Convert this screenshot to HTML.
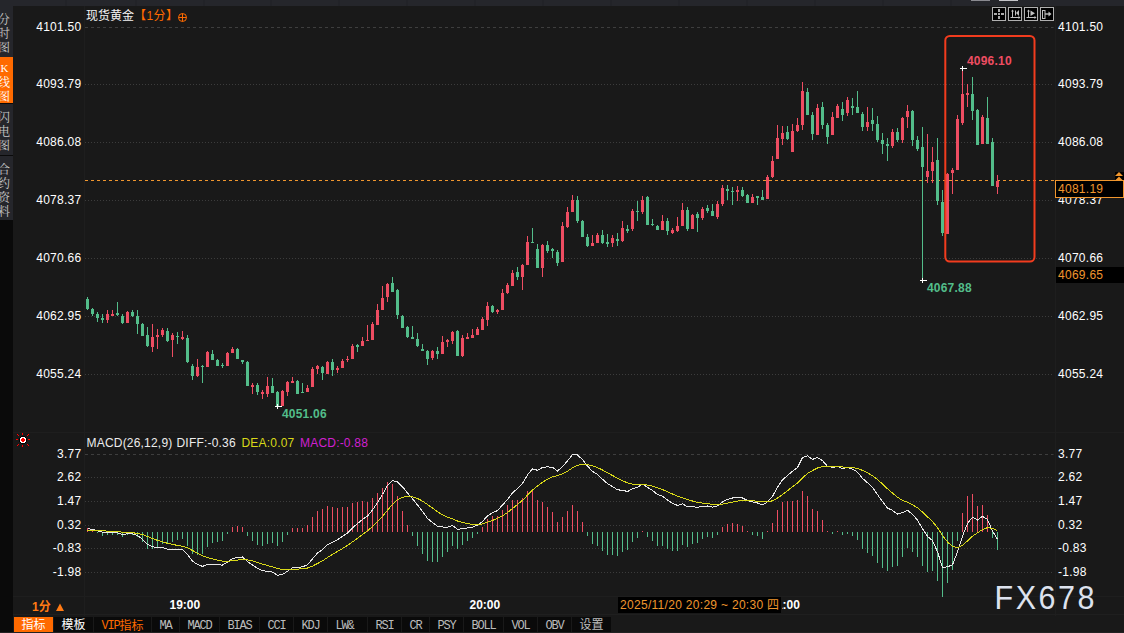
<!DOCTYPE html>
<html lang="zh-CN">
<head>
<meta charset="utf-8">
<title>现货黄金 1分 K线图</title>
<style>
html,body{margin:0;padding:0;background:#191919;}
body{width:1124px;height:633px;overflow:hidden;position:relative;font-family:"Liberation Sans","Noto Sans CJK SC",sans-serif;font-size:12px;color:#ffffff;}
#wrap{position:absolute;left:0;top:0;width:1124px;height:633px;overflow:hidden;background:#191919;}
.abs{position:absolute;white-space:nowrap;line-height:14px;}
#topbar{position:absolute;left:0;top:0;width:1124px;height:6px;background:#25262b;}
#topbar i{position:absolute;top:0;width:2px;height:6px;background:#222328;}
#side{position:absolute;left:0;top:6px;width:13px;height:626px;background:#0a0a0a;}
#bot{position:absolute;left:0;top:632px;width:1124px;height:1px;background:#222222;}
.vt{position:absolute;left:0;width:13px;background:#25262b;color:#c8c8c8;overflow:hidden;font-family:"Noto Serif CJK SC","Noto Sans CJK SC",serif;}
.vt span{position:absolute;left:-2px;width:12px;height:14px;line-height:14px;font-size:12px;text-align:center;}
.vt.on{background:#ff6a00;color:#fff;}
.pl{position:absolute;left:20px;width:61.5px;text-align:right;line-height:14px;letter-spacing:0.27px;white-space:nowrap;}
.pr{position:absolute;left:1058px;line-height:14px;letter-spacing:0.27px;white-space:nowrap;}
.b{font-weight:bold;}
#tabs{position:absolute;left:13px;top:617px;height:15px;width:1111px;}
#tabs div{position:absolute;top:0;height:15px;line-height:15px;background:#0a0a0a;color:#bcbcbc;text-align:center;font-size:12px;font-family:"Liberation Mono","Noto Serif CJK SC",monospace;letter-spacing:-1.2px;white-space:nowrap;overflow:hidden;}
#tabs div.la{line-height:19px;}
#tabs div.cn{font-family:"Noto Sans CJK SC",sans-serif;letter-spacing:0;line-height:14px;}
svg{position:absolute;left:0;top:0;}
</style>
</head>
<body>
<div id="wrap">
<svg width="1124" height="633" viewBox="0 0 1124 633">
<line x1="85" x2="1053.5" y1="27.5" y2="27.5" stroke="#3e3e3e" stroke-width="1" stroke-dasharray="3 3"/>
<line x1="85" x2="1053.5" y1="84.5" y2="84.5" stroke="#3c3c3c" stroke-width="1" stroke-dasharray="1 2"/>
<line x1="85" x2="1053.5" y1="142.5" y2="142.5" stroke="#3c3c3c" stroke-width="1" stroke-dasharray="1 2"/>
<line x1="85" x2="1053.5" y1="200.5" y2="200.5" stroke="#3c3c3c" stroke-width="1" stroke-dasharray="1 2"/>
<line x1="85" x2="1053.5" y1="258.5" y2="258.5" stroke="#3c3c3c" stroke-width="1" stroke-dasharray="1 2"/>
<line x1="85" x2="1053.5" y1="316.5" y2="316.5" stroke="#3c3c3c" stroke-width="1" stroke-dasharray="1 2"/>
<line x1="85" x2="1053.5" y1="374.5" y2="374.5" stroke="#3c3c3c" stroke-width="1" stroke-dasharray="1 2"/>
<line x1="85" x2="1053.5" y1="454.5" y2="454.5" stroke="#3e3e3e" stroke-width="1" stroke-dasharray="3 3"/>
<line x1="85" x2="1053.5" y1="477.5" y2="477.5" stroke="#3c3c3c" stroke-width="1" stroke-dasharray="1 2"/>
<line x1="85" x2="1053.5" y1="501.5" y2="501.5" stroke="#3c3c3c" stroke-width="1" stroke-dasharray="1 2"/>
<line x1="85" x2="1053.5" y1="525.5" y2="525.5" stroke="#3c3c3c" stroke-width="1" stroke-dasharray="1 2"/>
<line x1="85" x2="1053.5" y1="548.5" y2="548.5" stroke="#3c3c3c" stroke-width="1" stroke-dasharray="1 2"/>
<line x1="85" x2="1053.5" y1="572.5" y2="572.5" stroke="#3c3c3c" stroke-width="1" stroke-dasharray="1 2"/>
<line x1="84.5" x2="84.5" y1="6" y2="616" stroke="#1e1e1e" stroke-width="1"/>
<line x1="1055.5" x2="1055.5" y1="6" y2="616" stroke="#1e1e1e" stroke-width="1"/>
<line x1="13" x2="1124" y1="432.5" y2="432.5" stroke="#1e1e1e" stroke-width="1"/>
<line x1="13" x2="1124" y1="596.5" y2="596.5" stroke="#1e1e1e" stroke-width="1"/>
<line x1="13" x2="1124" y1="614.5" y2="614.5" stroke="#1f1f1f" stroke-width="1"/>
<line x1="85" x2="1055" y1="180.5" y2="180.5" stroke="#f0962e" stroke-width="1" stroke-dasharray="3 3"/>
<g shape-rendering="crispEdges"><rect x="87" y="297" width="1" height="13" fill="#53bd8a"/><rect x="86" y="299" width="3" height="10" fill="#53bd8a"/><rect x="92" y="308" width="1" height="8" fill="#53bd8a"/><rect x="91" y="309" width="3" height="5" fill="#53bd8a"/><rect x="97" y="312" width="1" height="10" fill="#53bd8a"/><rect x="96" y="314" width="3" height="4" fill="#53bd8a"/><rect x="102" y="314" width="1" height="9" fill="#53bd8a"/><rect x="101" y="318" width="3" height="2" fill="#53bd8a"/><rect x="107" y="310" width="1" height="13" fill="#ee4d62"/><rect x="106" y="314" width="3" height="6" fill="#ee4d62"/><rect x="112" y="310" width="1" height="6" fill="#ee4d62"/><rect x="111" y="314" width="3" height="2" fill="#ee4d62"/><rect x="117" y="302" width="1" height="14" fill="#53bd8a"/><rect x="116" y="313" width="3" height="2" fill="#53bd8a"/><rect x="122" y="314" width="1" height="10" fill="#53bd8a"/><rect x="121" y="316" width="3" height="7" fill="#53bd8a"/><rect x="127" y="311" width="1" height="12" fill="#ee4d62"/><rect x="126" y="312" width="3" height="11" fill="#ee4d62"/><rect x="132" y="310" width="1" height="7" fill="#53bd8a"/><rect x="131" y="312" width="3" height="4" fill="#53bd8a"/><rect x="137" y="310" width="1" height="24" fill="#53bd8a"/><rect x="136" y="316" width="3" height="8" fill="#53bd8a"/><rect x="142" y="323" width="1" height="13" fill="#53bd8a"/><rect x="141" y="324" width="3" height="12" fill="#53bd8a"/><rect x="147" y="327" width="1" height="20" fill="#53bd8a"/><rect x="146" y="335" width="3" height="11" fill="#53bd8a"/><rect x="152" y="324" width="1" height="28" fill="#ee4d62"/><rect x="151" y="337" width="3" height="10" fill="#ee4d62"/><rect x="157" y="329" width="1" height="20" fill="#ee4d62"/><rect x="156" y="335" width="3" height="2" fill="#ee4d62"/><rect x="162" y="328" width="1" height="9" fill="#ee4d62"/><rect x="161" y="330" width="3" height="5" fill="#ee4d62"/><rect x="167" y="328" width="1" height="14" fill="#53bd8a"/><rect x="166" y="331" width="3" height="10" fill="#53bd8a"/><rect x="172" y="333" width="1" height="24" fill="#ee4d62"/><rect x="171" y="335" width="3" height="5" fill="#ee4d62"/><rect x="177" y="332" width="1" height="12" fill="#53bd8a"/><rect x="176" y="336" width="3" height="1" fill="#53bd8a"/><rect x="182" y="331" width="1" height="9" fill="#ee4d62"/><rect x="181" y="337" width="3" height="2" fill="#ee4d62"/><rect x="187" y="335" width="1" height="28" fill="#53bd8a"/><rect x="186" y="338" width="3" height="24" fill="#53bd8a"/><rect x="192" y="364" width="1" height="16" fill="#53bd8a"/><rect x="191" y="366" width="3" height="10" fill="#53bd8a"/><rect x="197" y="359" width="1" height="18" fill="#ee4d62"/><rect x="196" y="367" width="3" height="9" fill="#ee4d62"/><rect x="202" y="365" width="1" height="18" fill="#53bd8a"/><rect x="201" y="366" width="3" height="1" fill="#53bd8a"/><rect x="207" y="351" width="1" height="16" fill="#ee4d62"/><rect x="206" y="352" width="3" height="15" fill="#ee4d62"/><rect x="212" y="350" width="1" height="10" fill="#53bd8a"/><rect x="211" y="354" width="3" height="6" fill="#53bd8a"/><rect x="217" y="359" width="1" height="7" fill="#53bd8a"/><rect x="216" y="360" width="3" height="6" fill="#53bd8a"/><rect x="222" y="363" width="1" height="5" fill="#53bd8a"/><rect x="221" y="365" width="3" height="1" fill="#53bd8a"/><rect x="227" y="352" width="1" height="14" fill="#ee4d62"/><rect x="226" y="353" width="3" height="13" fill="#ee4d62"/><rect x="232" y="347" width="1" height="6" fill="#ee4d62"/><rect x="231" y="349" width="3" height="4" fill="#ee4d62"/><rect x="237" y="348" width="1" height="11" fill="#53bd8a"/><rect x="236" y="349" width="3" height="10" fill="#53bd8a"/><rect x="242" y="360" width="1" height="4" fill="#53bd8a"/><rect x="241" y="360" width="3" height="2" fill="#53bd8a"/><rect x="247" y="361" width="1" height="25" fill="#53bd8a"/><rect x="246" y="362" width="3" height="24" fill="#53bd8a"/><rect x="252" y="383" width="1" height="11" fill="#ee4d62"/><rect x="251" y="385" width="3" height="2" fill="#ee4d62"/><rect x="257" y="383" width="1" height="12" fill="#53bd8a"/><rect x="256" y="385" width="3" height="7" fill="#53bd8a"/><rect x="262" y="390" width="1" height="9" fill="#ee4d62"/><rect x="261" y="392" width="3" height="2" fill="#ee4d62"/><rect x="267" y="377" width="1" height="20" fill="#ee4d62"/><rect x="266" y="386" width="3" height="8" fill="#ee4d62"/><rect x="272" y="378" width="1" height="15" fill="#53bd8a"/><rect x="271" y="386" width="3" height="7" fill="#53bd8a"/><rect x="277" y="391" width="1" height="15" fill="#53bd8a"/><rect x="276" y="392" width="3" height="14" fill="#53bd8a"/><rect x="282" y="390" width="1" height="16" fill="#ee4d62"/><rect x="281" y="391" width="3" height="15" fill="#ee4d62"/><rect x="287" y="381" width="1" height="15" fill="#ee4d62"/><rect x="286" y="382" width="3" height="10" fill="#ee4d62"/><rect x="292" y="377" width="1" height="6" fill="#ee4d62"/><rect x="291" y="381" width="3" height="2" fill="#ee4d62"/><rect x="297" y="380" width="1" height="14" fill="#53bd8a"/><rect x="296" y="381" width="3" height="13" fill="#53bd8a"/><rect x="302" y="383" width="1" height="10" fill="#53bd8a"/><rect x="301" y="392" width="3" height="1" fill="#53bd8a"/><rect x="307" y="385" width="1" height="7" fill="#ee4d62"/><rect x="306" y="388" width="3" height="4" fill="#ee4d62"/><rect x="312" y="367" width="1" height="20" fill="#ee4d62"/><rect x="311" y="369" width="3" height="18" fill="#ee4d62"/><rect x="317" y="365" width="1" height="9" fill="#ee4d62"/><rect x="316" y="366" width="3" height="3" fill="#ee4d62"/><rect x="322" y="366" width="1" height="14" fill="#53bd8a"/><rect x="321" y="367" width="3" height="6" fill="#53bd8a"/><rect x="327" y="361" width="1" height="13" fill="#ee4d62"/><rect x="326" y="362" width="3" height="12" fill="#ee4d62"/><rect x="332" y="359" width="1" height="17" fill="#53bd8a"/><rect x="331" y="362" width="3" height="8" fill="#53bd8a"/><rect x="337" y="366" width="1" height="7" fill="#ee4d62"/><rect x="336" y="368" width="3" height="2" fill="#ee4d62"/><rect x="342" y="359" width="1" height="9" fill="#ee4d62"/><rect x="341" y="361" width="3" height="7" fill="#ee4d62"/><rect x="347" y="356" width="1" height="6" fill="#ee4d62"/><rect x="346" y="359" width="3" height="1" fill="#ee4d62"/><rect x="352" y="344" width="1" height="15" fill="#ee4d62"/><rect x="351" y="346" width="3" height="13" fill="#ee4d62"/><rect x="357" y="344" width="1" height="8" fill="#53bd8a"/><rect x="356" y="345" width="3" height="2" fill="#53bd8a"/><rect x="362" y="337" width="1" height="9" fill="#ee4d62"/><rect x="361" y="341" width="3" height="5" fill="#ee4d62"/><rect x="367" y="325" width="1" height="16" fill="#ee4d62"/><rect x="366" y="340" width="3" height="1" fill="#ee4d62"/><rect x="372" y="322" width="1" height="18" fill="#ee4d62"/><rect x="371" y="324" width="3" height="16" fill="#ee4d62"/><rect x="377" y="304" width="1" height="21" fill="#ee4d62"/><rect x="376" y="310" width="3" height="15" fill="#ee4d62"/><rect x="382" y="286" width="1" height="24" fill="#ee4d62"/><rect x="381" y="298" width="3" height="12" fill="#ee4d62"/><rect x="387" y="283" width="1" height="19" fill="#ee4d62"/><rect x="386" y="284" width="3" height="13" fill="#ee4d62"/><rect x="392" y="277" width="1" height="15" fill="#53bd8a"/><rect x="391" y="283" width="3" height="9" fill="#53bd8a"/><rect x="397" y="289" width="1" height="30" fill="#53bd8a"/><rect x="396" y="290" width="3" height="25" fill="#53bd8a"/><rect x="402" y="315" width="1" height="13" fill="#53bd8a"/><rect x="401" y="316" width="3" height="12" fill="#53bd8a"/><rect x="407" y="326" width="1" height="12" fill="#53bd8a"/><rect x="406" y="327" width="3" height="10" fill="#53bd8a"/><rect x="412" y="326" width="1" height="13" fill="#53bd8a"/><rect x="411" y="337" width="3" height="2" fill="#53bd8a"/><rect x="417" y="333" width="1" height="14" fill="#53bd8a"/><rect x="416" y="339" width="3" height="7" fill="#53bd8a"/><rect x="422" y="344" width="1" height="7" fill="#53bd8a"/><rect x="421" y="349" width="3" height="2" fill="#53bd8a"/><rect x="427" y="350" width="1" height="15" fill="#53bd8a"/><rect x="426" y="351" width="3" height="8" fill="#53bd8a"/><rect x="432" y="350" width="1" height="10" fill="#ee4d62"/><rect x="431" y="351" width="3" height="7" fill="#ee4d62"/><rect x="437" y="347" width="1" height="12" fill="#53bd8a"/><rect x="436" y="351" width="3" height="3" fill="#53bd8a"/><rect x="442" y="336" width="1" height="18" fill="#ee4d62"/><rect x="441" y="342" width="3" height="12" fill="#ee4d62"/><rect x="447" y="339" width="1" height="8" fill="#ee4d62"/><rect x="446" y="340" width="3" height="2" fill="#ee4d62"/><rect x="452" y="331" width="1" height="13" fill="#ee4d62"/><rect x="451" y="332" width="3" height="9" fill="#ee4d62"/><rect x="457" y="330" width="1" height="26" fill="#53bd8a"/><rect x="456" y="331" width="3" height="25" fill="#53bd8a"/><rect x="462" y="335" width="1" height="22" fill="#ee4d62"/><rect x="461" y="338" width="3" height="18" fill="#ee4d62"/><rect x="467" y="333" width="1" height="6" fill="#ee4d62"/><rect x="466" y="337" width="3" height="2" fill="#ee4d62"/><rect x="472" y="329" width="1" height="9" fill="#ee4d62"/><rect x="471" y="335" width="3" height="3" fill="#ee4d62"/><rect x="477" y="327" width="1" height="8" fill="#ee4d62"/><rect x="476" y="329" width="3" height="6" fill="#ee4d62"/><rect x="482" y="317" width="1" height="13" fill="#ee4d62"/><rect x="481" y="319" width="3" height="11" fill="#ee4d62"/><rect x="487" y="302" width="1" height="24" fill="#ee4d62"/><rect x="486" y="306" width="3" height="14" fill="#ee4d62"/><rect x="492" y="305" width="1" height="8" fill="#53bd8a"/><rect x="491" y="306" width="3" height="6" fill="#53bd8a"/><rect x="497" y="309" width="1" height="5" fill="#ee4d62"/><rect x="496" y="310" width="3" height="2" fill="#ee4d62"/><rect x="502" y="289" width="1" height="21" fill="#ee4d62"/><rect x="501" y="293" width="3" height="17" fill="#ee4d62"/><rect x="507" y="283" width="1" height="11" fill="#ee4d62"/><rect x="506" y="285" width="3" height="8" fill="#ee4d62"/><rect x="512" y="270" width="1" height="16" fill="#ee4d62"/><rect x="511" y="273" width="3" height="13" fill="#ee4d62"/><rect x="517" y="267" width="1" height="13" fill="#53bd8a"/><rect x="516" y="272" width="3" height="5" fill="#53bd8a"/><rect x="522" y="264" width="1" height="26" fill="#ee4d62"/><rect x="521" y="265" width="3" height="12" fill="#ee4d62"/><rect x="527" y="236" width="1" height="29" fill="#ee4d62"/><rect x="526" y="242" width="3" height="23" fill="#ee4d62"/><rect x="532" y="228" width="1" height="15" fill="#53bd8a"/><rect x="531" y="242" width="3" height="1" fill="#53bd8a"/><rect x="537" y="244" width="1" height="24" fill="#53bd8a"/><rect x="536" y="249" width="3" height="19" fill="#53bd8a"/><rect x="542" y="244" width="1" height="33" fill="#ee4d62"/><rect x="541" y="245" width="3" height="23" fill="#ee4d62"/><rect x="547" y="241" width="1" height="12" fill="#53bd8a"/><rect x="546" y="245" width="3" height="6" fill="#53bd8a"/><rect x="552" y="248" width="1" height="10" fill="#53bd8a"/><rect x="551" y="249" width="3" height="2" fill="#53bd8a"/><rect x="557" y="250" width="1" height="16" fill="#53bd8a"/><rect x="556" y="252" width="3" height="11" fill="#53bd8a"/><rect x="562" y="222" width="1" height="40" fill="#ee4d62"/><rect x="561" y="226" width="3" height="36" fill="#ee4d62"/><rect x="567" y="207" width="1" height="21" fill="#ee4d62"/><rect x="566" y="212" width="3" height="15" fill="#ee4d62"/><rect x="572" y="195" width="1" height="17" fill="#ee4d62"/><rect x="571" y="200" width="3" height="12" fill="#ee4d62"/><rect x="577" y="196" width="1" height="27" fill="#53bd8a"/><rect x="576" y="200" width="3" height="21" fill="#53bd8a"/><rect x="582" y="220" width="1" height="17" fill="#53bd8a"/><rect x="581" y="221" width="3" height="16" fill="#53bd8a"/><rect x="587" y="234" width="1" height="13" fill="#53bd8a"/><rect x="586" y="237" width="3" height="9" fill="#53bd8a"/><rect x="592" y="235" width="1" height="11" fill="#ee4d62"/><rect x="591" y="243" width="3" height="3" fill="#ee4d62"/><rect x="597" y="233" width="1" height="10" fill="#ee4d62"/><rect x="596" y="235" width="3" height="8" fill="#ee4d62"/><rect x="602" y="230" width="1" height="14" fill="#53bd8a"/><rect x="601" y="235" width="3" height="8" fill="#53bd8a"/><rect x="607" y="234" width="1" height="13" fill="#53bd8a"/><rect x="606" y="242" width="3" height="2" fill="#53bd8a"/><rect x="612" y="235" width="1" height="12" fill="#ee4d62"/><rect x="611" y="238" width="3" height="5" fill="#ee4d62"/><rect x="617" y="233" width="1" height="13" fill="#53bd8a"/><rect x="616" y="239" width="3" height="2" fill="#53bd8a"/><rect x="622" y="221" width="1" height="21" fill="#ee4d62"/><rect x="621" y="228" width="3" height="13" fill="#ee4d62"/><rect x="627" y="225" width="1" height="8" fill="#53bd8a"/><rect x="626" y="229" width="3" height="2" fill="#53bd8a"/><rect x="632" y="209" width="1" height="22" fill="#ee4d62"/><rect x="631" y="211" width="3" height="18" fill="#ee4d62"/><rect x="637" y="201" width="1" height="20" fill="#53bd8a"/><rect x="636" y="211" width="3" height="1" fill="#53bd8a"/><rect x="642" y="196" width="1" height="18" fill="#ee4d62"/><rect x="641" y="200" width="3" height="12" fill="#ee4d62"/><rect x="647" y="196" width="1" height="29" fill="#53bd8a"/><rect x="646" y="197" width="3" height="28" fill="#53bd8a"/><rect x="652" y="219" width="1" height="7" fill="#53bd8a"/><rect x="651" y="224" width="3" height="1" fill="#53bd8a"/><rect x="657" y="225" width="1" height="5" fill="#53bd8a"/><rect x="656" y="226" width="3" height="4" fill="#53bd8a"/><rect x="662" y="215" width="1" height="15" fill="#ee4d62"/><rect x="661" y="221" width="3" height="9" fill="#ee4d62"/><rect x="667" y="218" width="1" height="17" fill="#53bd8a"/><rect x="666" y="221" width="3" height="10" fill="#53bd8a"/><rect x="672" y="228" width="1" height="6" fill="#ee4d62"/><rect x="671" y="230" width="3" height="3" fill="#ee4d62"/><rect x="677" y="217" width="1" height="15" fill="#ee4d62"/><rect x="676" y="226" width="3" height="5" fill="#ee4d62"/><rect x="682" y="203" width="1" height="23" fill="#ee4d62"/><rect x="681" y="210" width="3" height="16" fill="#ee4d62"/><rect x="687" y="207" width="1" height="24" fill="#53bd8a"/><rect x="686" y="210" width="3" height="19" fill="#53bd8a"/><rect x="692" y="214" width="1" height="15" fill="#ee4d62"/><rect x="691" y="215" width="3" height="14" fill="#ee4d62"/><rect x="697" y="212" width="1" height="20" fill="#53bd8a"/><rect x="696" y="214" width="3" height="4" fill="#53bd8a"/><rect x="702" y="207" width="1" height="13" fill="#ee4d62"/><rect x="701" y="209" width="3" height="9" fill="#ee4d62"/><rect x="707" y="205" width="1" height="8" fill="#53bd8a"/><rect x="706" y="208" width="3" height="3" fill="#53bd8a"/><rect x="712" y="204" width="1" height="12" fill="#53bd8a"/><rect x="711" y="211" width="3" height="5" fill="#53bd8a"/><rect x="717" y="201" width="1" height="18" fill="#ee4d62"/><rect x="716" y="204" width="3" height="13" fill="#ee4d62"/><rect x="722" y="185" width="1" height="21" fill="#ee4d62"/><rect x="721" y="188" width="3" height="16" fill="#ee4d62"/><rect x="727" y="185" width="1" height="15" fill="#53bd8a"/><rect x="726" y="189" width="3" height="2" fill="#53bd8a"/><rect x="732" y="187" width="1" height="18" fill="#53bd8a"/><rect x="731" y="191" width="3" height="1" fill="#53bd8a"/><rect x="737" y="186" width="1" height="15" fill="#ee4d62"/><rect x="736" y="190" width="3" height="2" fill="#ee4d62"/><rect x="742" y="187" width="1" height="10" fill="#53bd8a"/><rect x="741" y="190" width="3" height="6" fill="#53bd8a"/><rect x="747" y="194" width="1" height="9" fill="#53bd8a"/><rect x="746" y="195" width="3" height="8" fill="#53bd8a"/><rect x="752" y="194" width="1" height="9" fill="#ee4d62"/><rect x="751" y="197" width="3" height="6" fill="#ee4d62"/><rect x="757" y="196" width="1" height="9" fill="#53bd8a"/><rect x="756" y="196" width="3" height="2" fill="#53bd8a"/><rect x="762" y="190" width="1" height="10" fill="#53bd8a"/><rect x="761" y="197" width="3" height="3" fill="#53bd8a"/><rect x="767" y="175" width="1" height="24" fill="#ee4d62"/><rect x="766" y="177" width="3" height="22" fill="#ee4d62"/><rect x="772" y="156" width="1" height="22" fill="#ee4d62"/><rect x="771" y="161" width="3" height="16" fill="#ee4d62"/><rect x="777" y="125" width="1" height="34" fill="#ee4d62"/><rect x="776" y="138" width="3" height="21" fill="#ee4d62"/><rect x="782" y="126" width="1" height="19" fill="#ee4d62"/><rect x="781" y="133" width="3" height="6" fill="#ee4d62"/><rect x="787" y="126" width="1" height="14" fill="#53bd8a"/><rect x="786" y="132" width="3" height="7" fill="#53bd8a"/><rect x="792" y="124" width="1" height="28" fill="#ee4d62"/><rect x="791" y="131" width="3" height="21" fill="#ee4d62"/><rect x="797" y="118" width="1" height="14" fill="#ee4d62"/><rect x="796" y="125" width="3" height="6" fill="#ee4d62"/><rect x="802" y="82" width="1" height="48" fill="#ee4d62"/><rect x="801" y="91" width="3" height="34" fill="#ee4d62"/><rect x="807" y="88" width="1" height="27" fill="#53bd8a"/><rect x="806" y="92" width="3" height="23" fill="#53bd8a"/><rect x="812" y="112" width="1" height="28" fill="#53bd8a"/><rect x="811" y="115" width="3" height="19" fill="#53bd8a"/><rect x="817" y="104" width="1" height="31" fill="#ee4d62"/><rect x="816" y="108" width="3" height="27" fill="#ee4d62"/><rect x="822" y="102" width="1" height="27" fill="#53bd8a"/><rect x="821" y="107" width="3" height="18" fill="#53bd8a"/><rect x="827" y="123" width="1" height="21" fill="#53bd8a"/><rect x="826" y="125" width="3" height="12" fill="#53bd8a"/><rect x="832" y="112" width="1" height="23" fill="#ee4d62"/><rect x="831" y="117" width="3" height="18" fill="#ee4d62"/><rect x="837" y="104" width="1" height="14" fill="#ee4d62"/><rect x="836" y="106" width="3" height="12" fill="#ee4d62"/><rect x="842" y="102" width="1" height="19" fill="#53bd8a"/><rect x="841" y="109" width="3" height="6" fill="#53bd8a"/><rect x="847" y="97" width="1" height="19" fill="#ee4d62"/><rect x="846" y="100" width="3" height="13" fill="#ee4d62"/><rect x="852" y="98" width="1" height="17" fill="#53bd8a"/><rect x="851" y="106" width="3" height="2" fill="#53bd8a"/><rect x="857" y="91" width="1" height="22" fill="#53bd8a"/><rect x="856" y="107" width="3" height="6" fill="#53bd8a"/><rect x="862" y="112" width="1" height="19" fill="#53bd8a"/><rect x="861" y="114" width="3" height="13" fill="#53bd8a"/><rect x="867" y="107" width="1" height="24" fill="#ee4d62"/><rect x="866" y="122" width="3" height="5" fill="#ee4d62"/><rect x="872" y="108" width="1" height="23" fill="#53bd8a"/><rect x="871" y="120" width="3" height="4" fill="#53bd8a"/><rect x="877" y="116" width="1" height="26" fill="#53bd8a"/><rect x="876" y="124" width="3" height="16" fill="#53bd8a"/><rect x="882" y="133" width="1" height="21" fill="#53bd8a"/><rect x="881" y="140" width="3" height="4" fill="#53bd8a"/><rect x="887" y="138" width="1" height="23" fill="#53bd8a"/><rect x="886" y="144" width="3" height="2" fill="#53bd8a"/><rect x="892" y="129" width="1" height="19" fill="#ee4d62"/><rect x="891" y="132" width="3" height="14" fill="#ee4d62"/><rect x="897" y="128" width="1" height="14" fill="#53bd8a"/><rect x="896" y="132" width="3" height="8" fill="#53bd8a"/><rect x="902" y="117" width="1" height="26" fill="#ee4d62"/><rect x="901" y="118" width="3" height="22" fill="#ee4d62"/><rect x="907" y="105" width="1" height="23" fill="#ee4d62"/><rect x="906" y="111" width="3" height="6" fill="#ee4d62"/><rect x="912" y="110" width="1" height="36" fill="#53bd8a"/><rect x="911" y="111" width="3" height="29" fill="#53bd8a"/><rect x="917" y="136" width="1" height="15" fill="#53bd8a"/><rect x="916" y="140" width="3" height="9" fill="#53bd8a"/><rect x="922" y="127" width="1" height="153" fill="#53bd8a"/><rect x="921" y="147" width="3" height="20" fill="#53bd8a"/><rect x="927" y="134" width="1" height="49" fill="#ee4d62"/><rect x="926" y="171" width="3" height="6" fill="#ee4d62"/><rect x="932" y="147" width="1" height="36" fill="#ee4d62"/><rect x="931" y="162" width="3" height="9" fill="#ee4d62"/><rect x="937" y="138" width="1" height="67" fill="#53bd8a"/><rect x="936" y="160" width="3" height="41" fill="#53bd8a"/><rect x="942" y="190" width="1" height="46" fill="#53bd8a"/><rect x="941" y="202" width="3" height="31" fill="#53bd8a"/><rect x="947" y="173" width="1" height="61" fill="#ee4d62"/><rect x="946" y="174" width="3" height="60" fill="#ee4d62"/><rect x="952" y="168" width="1" height="26" fill="#ee4d62"/><rect x="951" y="170" width="3" height="3" fill="#ee4d62"/><rect x="957" y="115" width="1" height="55" fill="#ee4d62"/><rect x="956" y="119" width="3" height="51" fill="#ee4d62"/><rect x="962" y="68" width="1" height="57" fill="#ee4d62"/><rect x="961" y="94" width="3" height="29" fill="#ee4d62"/><rect x="967" y="84" width="1" height="23" fill="#ee4d62"/><rect x="966" y="93" width="3" height="2" fill="#ee4d62"/><rect x="972" y="77" width="1" height="43" fill="#53bd8a"/><rect x="971" y="94" width="3" height="17" fill="#53bd8a"/><rect x="977" y="109" width="1" height="36" fill="#53bd8a"/><rect x="976" y="110" width="3" height="35" fill="#53bd8a"/><rect x="982" y="115" width="1" height="29" fill="#ee4d62"/><rect x="981" y="117" width="3" height="27" fill="#ee4d62"/><rect x="987" y="97" width="1" height="47" fill="#53bd8a"/><rect x="986" y="118" width="3" height="26" fill="#53bd8a"/><rect x="992" y="138" width="1" height="48" fill="#53bd8a"/><rect x="991" y="142" width="3" height="44" fill="#53bd8a"/><rect x="997" y="175" width="1" height="19" fill="#ee4d62"/><rect x="996" y="181" width="3" height="6" fill="#ee4d62"/><rect x="87" y="528" width="1" height="4" fill="#ee4d62"/><rect x="92" y="529" width="1" height="3" fill="#ee4d62"/><rect x="97" y="532" width="1" height="1" fill="#53bd8a"/><rect x="102" y="532" width="1" height="4" fill="#53bd8a"/><rect x="107" y="532" width="1" height="3" fill="#53bd8a"/><rect x="112" y="532" width="1" height="3" fill="#53bd8a"/><rect x="117" y="532" width="1" height="3" fill="#53bd8a"/><rect x="122" y="532" width="1" height="5" fill="#53bd8a"/><rect x="127" y="532" width="1" height="3" fill="#53bd8a"/><rect x="132" y="532" width="1" height="3" fill="#53bd8a"/><rect x="137" y="532" width="1" height="5" fill="#53bd8a"/><rect x="142" y="532" width="1" height="10" fill="#53bd8a"/><rect x="147" y="532" width="1" height="17" fill="#53bd8a"/><rect x="152" y="532" width="1" height="17" fill="#53bd8a"/><rect x="157" y="532" width="1" height="16" fill="#53bd8a"/><rect x="162" y="532" width="1" height="12" fill="#53bd8a"/><rect x="167" y="532" width="1" height="12" fill="#53bd8a"/><rect x="172" y="532" width="1" height="10" fill="#53bd8a"/><rect x="177" y="532" width="1" height="8" fill="#53bd8a"/><rect x="182" y="532" width="1" height="7" fill="#53bd8a"/><rect x="187" y="532" width="1" height="14" fill="#53bd8a"/><rect x="192" y="532" width="1" height="22" fill="#53bd8a"/><rect x="197" y="532" width="1" height="23" fill="#53bd8a"/><rect x="202" y="532" width="1" height="22" fill="#53bd8a"/><rect x="207" y="532" width="1" height="15" fill="#53bd8a"/><rect x="212" y="532" width="1" height="11" fill="#53bd8a"/><rect x="217" y="532" width="1" height="10" fill="#53bd8a"/><rect x="222" y="532" width="1" height="9" fill="#53bd8a"/><rect x="227" y="532" width="1" height="2" fill="#53bd8a"/><rect x="232" y="527" width="1" height="5" fill="#ee4d62"/><rect x="237" y="526" width="1" height="6" fill="#ee4d62"/><rect x="242" y="527" width="1" height="5" fill="#ee4d62"/><rect x="247" y="532" width="1" height="4" fill="#53bd8a"/><rect x="252" y="532" width="1" height="9" fill="#53bd8a"/><rect x="257" y="532" width="1" height="13" fill="#53bd8a"/><rect x="262" y="532" width="1" height="14" fill="#53bd8a"/><rect x="267" y="532" width="1" height="12" fill="#53bd8a"/><rect x="272" y="532" width="1" height="11" fill="#53bd8a"/><rect x="277" y="532" width="1" height="14" fill="#53bd8a"/><rect x="282" y="532" width="1" height="10" fill="#53bd8a"/><rect x="287" y="532" width="1" height="3" fill="#53bd8a"/><rect x="292" y="528" width="1" height="4" fill="#ee4d62"/><rect x="297" y="528" width="1" height="4" fill="#ee4d62"/><rect x="302" y="528" width="1" height="4" fill="#ee4d62"/><rect x="307" y="525" width="1" height="7" fill="#ee4d62"/><rect x="312" y="517" width="1" height="15" fill="#ee4d62"/><rect x="317" y="511" width="1" height="21" fill="#ee4d62"/><rect x="322" y="509" width="1" height="23" fill="#ee4d62"/><rect x="327" y="506" width="1" height="26" fill="#ee4d62"/><rect x="332" y="507" width="1" height="25" fill="#ee4d62"/><rect x="337" y="508" width="1" height="24" fill="#ee4d62"/><rect x="342" y="507" width="1" height="25" fill="#ee4d62"/><rect x="347" y="507" width="1" height="25" fill="#ee4d62"/><rect x="352" y="503" width="1" height="29" fill="#ee4d62"/><rect x="357" y="502" width="1" height="30" fill="#ee4d62"/><rect x="362" y="501" width="1" height="31" fill="#ee4d62"/><rect x="367" y="502" width="1" height="30" fill="#ee4d62"/><rect x="372" y="498" width="1" height="34" fill="#ee4d62"/><rect x="377" y="493" width="1" height="39" fill="#ee4d62"/><rect x="382" y="488" width="1" height="44" fill="#ee4d62"/><rect x="387" y="482" width="1" height="50" fill="#ee4d62"/><rect x="392" y="484" width="1" height="48" fill="#ee4d62"/><rect x="397" y="496" width="1" height="36" fill="#ee4d62"/><rect x="402" y="511" width="1" height="21" fill="#ee4d62"/><rect x="407" y="525" width="1" height="7" fill="#ee4d62"/><rect x="412" y="532" width="1" height="4" fill="#53bd8a"/><rect x="417" y="532" width="1" height="14" fill="#53bd8a"/><rect x="422" y="532" width="1" height="22" fill="#53bd8a"/><rect x="427" y="532" width="1" height="29" fill="#53bd8a"/><rect x="432" y="532" width="1" height="30" fill="#53bd8a"/><rect x="437" y="532" width="1" height="30" fill="#53bd8a"/><rect x="442" y="532" width="1" height="25" fill="#53bd8a"/><rect x="447" y="532" width="1" height="20" fill="#53bd8a"/><rect x="452" y="532" width="1" height="14" fill="#53bd8a"/><rect x="457" y="532" width="1" height="17" fill="#53bd8a"/><rect x="462" y="532" width="1" height="13" fill="#53bd8a"/><rect x="467" y="532" width="1" height="9" fill="#53bd8a"/><rect x="472" y="532" width="1" height="6" fill="#53bd8a"/><rect x="477" y="532" width="1" height="2" fill="#53bd8a"/><rect x="482" y="527" width="1" height="5" fill="#ee4d62"/><rect x="487" y="519" width="1" height="13" fill="#ee4d62"/><rect x="492" y="516" width="1" height="16" fill="#ee4d62"/><rect x="497" y="516" width="1" height="16" fill="#ee4d62"/><rect x="502" y="510" width="1" height="22" fill="#ee4d62"/><rect x="507" y="505" width="1" height="27" fill="#ee4d62"/><rect x="512" y="500" width="1" height="32" fill="#ee4d62"/><rect x="517" y="500" width="1" height="32" fill="#ee4d62"/><rect x="522" y="498" width="1" height="34" fill="#ee4d62"/><rect x="527" y="491" width="1" height="41" fill="#ee4d62"/><rect x="532" y="489" width="1" height="43" fill="#ee4d62"/><rect x="537" y="500" width="1" height="32" fill="#ee4d62"/><rect x="542" y="502" width="1" height="30" fill="#ee4d62"/><rect x="547" y="507" width="1" height="25" fill="#ee4d62"/><rect x="552" y="512" width="1" height="20" fill="#ee4d62"/><rect x="557" y="522" width="1" height="10" fill="#ee4d62"/><rect x="562" y="517" width="1" height="15" fill="#ee4d62"/><rect x="567" y="511" width="1" height="21" fill="#ee4d62"/><rect x="572" y="505" width="1" height="27" fill="#ee4d62"/><rect x="577" y="511" width="1" height="21" fill="#ee4d62"/><rect x="582" y="522" width="1" height="10" fill="#ee4d62"/><rect x="587" y="532" width="1" height="4" fill="#53bd8a"/><rect x="592" y="532" width="1" height="12" fill="#53bd8a"/><rect x="597" y="532" width="1" height="14" fill="#53bd8a"/><rect x="602" y="532" width="1" height="19" fill="#53bd8a"/><rect x="607" y="532" width="1" height="23" fill="#53bd8a"/><rect x="612" y="532" width="1" height="23" fill="#53bd8a"/><rect x="617" y="532" width="1" height="24" fill="#53bd8a"/><rect x="622" y="532" width="1" height="20" fill="#53bd8a"/><rect x="627" y="532" width="1" height="18" fill="#53bd8a"/><rect x="632" y="532" width="1" height="10" fill="#53bd8a"/><rect x="637" y="532" width="1" height="6" fill="#53bd8a"/><rect x="642" y="531" width="1" height="1" fill="#ee4d62"/><rect x="647" y="532" width="1" height="5" fill="#53bd8a"/><rect x="652" y="532" width="1" height="9" fill="#53bd8a"/><rect x="657" y="532" width="1" height="14" fill="#53bd8a"/><rect x="662" y="532" width="1" height="14" fill="#53bd8a"/><rect x="667" y="532" width="1" height="17" fill="#53bd8a"/><rect x="672" y="532" width="1" height="19" fill="#53bd8a"/><rect x="677" y="532" width="1" height="19" fill="#53bd8a"/><rect x="682" y="532" width="1" height="13" fill="#53bd8a"/><rect x="687" y="532" width="1" height="15" fill="#53bd8a"/><rect x="692" y="532" width="1" height="12" fill="#53bd8a"/><rect x="697" y="532" width="1" height="11" fill="#53bd8a"/><rect x="702" y="532" width="1" height="7" fill="#53bd8a"/><rect x="707" y="532" width="1" height="5" fill="#53bd8a"/><rect x="712" y="532" width="1" height="6" fill="#53bd8a"/><rect x="717" y="532" width="1" height="3" fill="#53bd8a"/><rect x="722" y="527" width="1" height="5" fill="#ee4d62"/><rect x="727" y="524" width="1" height="8" fill="#ee4d62"/><rect x="732" y="523" width="1" height="9" fill="#ee4d62"/><rect x="737" y="524" width="1" height="8" fill="#ee4d62"/><rect x="742" y="526" width="1" height="6" fill="#ee4d62"/><rect x="747" y="531" width="1" height="1" fill="#ee4d62"/><rect x="752" y="532" width="1" height="3" fill="#53bd8a"/><rect x="757" y="532" width="1" height="4" fill="#53bd8a"/><rect x="762" y="532" width="1" height="7" fill="#53bd8a"/><rect x="767" y="531" width="1" height="1" fill="#ee4d62"/><rect x="772" y="523" width="1" height="9" fill="#ee4d62"/><rect x="777" y="510" width="1" height="22" fill="#ee4d62"/><rect x="782" y="502" width="1" height="30" fill="#ee4d62"/><rect x="787" y="501" width="1" height="31" fill="#ee4d62"/><rect x="792" y="501" width="1" height="31" fill="#ee4d62"/><rect x="797" y="500" width="1" height="32" fill="#ee4d62"/><rect x="802" y="491" width="1" height="41" fill="#ee4d62"/><rect x="807" y="496" width="1" height="36" fill="#ee4d62"/><rect x="812" y="509" width="1" height="23" fill="#ee4d62"/><rect x="817" y="511" width="1" height="21" fill="#ee4d62"/><rect x="822" y="520" width="1" height="12" fill="#ee4d62"/><rect x="827" y="531" width="1" height="1" fill="#ee4d62"/><rect x="832" y="532" width="1" height="2" fill="#53bd8a"/><rect x="837" y="531" width="1" height="1" fill="#ee4d62"/><rect x="842" y="532" width="1" height="3" fill="#53bd8a"/><rect x="847" y="532" width="1" height="2" fill="#53bd8a"/><rect x="852" y="532" width="1" height="4" fill="#53bd8a"/><rect x="857" y="532" width="1" height="8" fill="#53bd8a"/><rect x="862" y="532" width="1" height="17" fill="#53bd8a"/><rect x="867" y="532" width="1" height="21" fill="#53bd8a"/><rect x="872" y="532" width="1" height="24" fill="#53bd8a"/><rect x="877" y="532" width="1" height="31" fill="#53bd8a"/><rect x="882" y="532" width="1" height="36" fill="#53bd8a"/><rect x="887" y="532" width="1" height="39" fill="#53bd8a"/><rect x="892" y="532" width="1" height="35" fill="#53bd8a"/><rect x="897" y="532" width="1" height="34" fill="#53bd8a"/><rect x="902" y="532" width="1" height="25" fill="#53bd8a"/><rect x="907" y="532" width="1" height="16" fill="#53bd8a"/><rect x="912" y="532" width="1" height="20" fill="#53bd8a"/><rect x="917" y="532" width="1" height="25" fill="#53bd8a"/><rect x="922" y="532" width="1" height="34" fill="#53bd8a"/><rect x="927" y="532" width="1" height="40" fill="#53bd8a"/><rect x="932" y="532" width="1" height="39" fill="#53bd8a"/><rect x="937" y="532" width="1" height="49" fill="#53bd8a"/><rect x="942" y="532" width="1" height="65" fill="#53bd8a"/><rect x="947" y="532" width="1" height="51" fill="#53bd8a"/><rect x="952" y="532" width="1" height="38" fill="#53bd8a"/><rect x="957" y="532" width="1" height="9" fill="#53bd8a"/><rect x="962" y="513" width="1" height="19" fill="#ee4d62"/><rect x="967" y="496" width="1" height="36" fill="#ee4d62"/><rect x="972" y="494" width="1" height="38" fill="#ee4d62"/><rect x="977" y="506" width="1" height="26" fill="#ee4d62"/><rect x="982" y="505" width="1" height="27" fill="#ee4d62"/><rect x="987" y="515" width="1" height="17" fill="#ee4d62"/><rect x="992" y="532" width="1" height="6" fill="#53bd8a"/><rect x="997" y="532" width="1" height="18" fill="#53bd8a"/></g>
<polyline points="87.5,528.7 92.5,529.3 97.5,530.7 102.5,532.2 107.5,532.4 112.5,532.5 117.5,532.7 122.5,534.5 127.5,533.7 132.5,533.7 137.5,535.4 142.5,539.3 147.5,544.5 152.5,546.7 157.5,547.8 162.5,547.4 167.5,549.1 172.5,549.2 177.5,549.2 182.5,549.3 187.5,554.3 192.5,561.2 197.5,564.4 202.5,566.4 207.5,564.6 212.5,564.2 217.5,564.8 222.5,565.1 227.5,562.1 232.5,558.6 237.5,557.5 242.5,557.0 247.5,561.6 252.5,564.9 257.5,568.3 262.5,570.9 267.5,571.1 272.5,572.1 277.5,575.4 282.5,574.4 287.5,571.2 292.5,567.9 297.5,567.6 302.5,566.8 307.5,564.9 312.5,558.8 317.5,553.1 322.5,549.7 327.5,544.6 332.5,542.1 337.5,539.8 342.5,536.3 347.5,533.2 352.5,527.8 357.5,523.7 362.5,519.4 367.5,516.0 372.5,510.0 377.5,502.6 382.5,494.5 387.5,485.4 392.5,480.4 397.5,482.0 402.5,486.8 407.5,493.0 412.5,498.7 417.5,505.0 422.5,511.5 427.5,518.4 432.5,522.6 437.5,526.3 442.5,527.0 447.5,527.1 452.5,525.5 457.5,529.3 462.5,528.7 467.5,528.0 472.5,527.1 477.5,525.1 482.5,521.5 487.5,515.9 492.5,512.8 497.5,510.5 502.5,505.1 507.5,499.5 512.5,492.7 517.5,488.6 522.5,483.4 527.5,474.9 532.5,468.9 537.5,470.3 542.5,467.4 547.5,466.9 552.5,467.2 557.5,470.9 562.5,466.6 567.5,460.9 572.5,454.7 577.5,455.0 582.5,459.6 587.5,466.0 592.5,471.4 597.5,474.5 602.5,479.2 607.5,483.6 612.5,486.6 617.5,489.8 622.5,490.3 627.5,491.5 632.5,488.8 637.5,487.2 642.5,484.1 647.5,487.4 652.5,490.5 657.5,494.5 662.5,496.3 667.5,500.1 672.5,503.4 677.5,505.4 682.5,503.8 687.5,506.9 692.5,506.7 697.5,507.3 702.5,506.3 707.5,506.0 712.5,507.2 717.5,505.9 722.5,501.9 727.5,499.4 732.5,498.0 737.5,497.2 742.5,498.0 747.5,500.5 752.5,501.8 757.5,503.0 762.5,504.9 767.5,501.9 772.5,496.3 777.5,487.4 782.5,479.8 787.5,475.5 792.5,471.3 797.5,467.4 802.5,457.6 807.5,455.8 812.5,459.4 817.5,457.6 822.5,460.6 827.5,466.3 832.5,467.4 837.5,466.6 842.5,468.4 847.5,467.5 852.5,469.1 857.5,472.1 862.5,478.3 867.5,482.8 872.5,487.2 877.5,494.6 882.5,501.7 887.5,508.0 892.5,510.4 897.5,514.1 902.5,512.6 907.5,510.1 912.5,514.5 917.5,520.1 922.5,528.6 927.5,536.4 932.5,540.5 937.5,551.8 942.5,567.6 947.5,566.8 952.5,564.9 957.5,552.0 962.5,536.1 967.5,523.4 972.5,517.2 977.5,520.0 982.5,516.4 987.5,519.5 992.5,531.2 997.5,539.2" fill="none" stroke="#e8e8e8" stroke-width="1" shape-rendering="crispEdges"/>
<polyline points="87.5,530.7 92.5,530.4 97.5,530.4 102.5,530.8 107.5,531.1 112.5,531.4 117.5,531.7 122.5,532.2 127.5,532.5 132.5,532.8 137.5,533.3 142.5,534.5 147.5,536.5 152.5,538.5 157.5,540.4 162.5,541.8 167.5,543.3 172.5,544.4 177.5,545.4 182.5,546.2 187.5,547.8 192.5,550.5 197.5,553.3 202.5,555.9 207.5,557.6 212.5,558.9 217.5,560.1 222.5,561.1 227.5,561.3 232.5,560.8 237.5,560.1 242.5,559.5 247.5,559.9 252.5,560.9 257.5,562.4 262.5,564.1 267.5,565.5 272.5,566.8 277.5,568.5 282.5,569.7 287.5,570.0 292.5,569.6 297.5,569.2 302.5,568.7 307.5,568.0 312.5,566.1 317.5,563.5 322.5,560.8 327.5,557.5 332.5,554.4 337.5,551.5 342.5,548.5 347.5,545.4 352.5,541.9 357.5,538.3 362.5,534.5 367.5,530.8 372.5,526.6 377.5,521.8 382.5,516.4 387.5,510.2 392.5,504.2 397.5,499.8 402.5,497.2 407.5,496.3 412.5,496.8 417.5,498.5 422.5,501.1 427.5,504.5 432.5,508.1 437.5,511.8 442.5,514.8 447.5,517.3 452.5,518.9 457.5,521.0 462.5,522.5 467.5,523.6 472.5,524.3 477.5,524.5 482.5,523.9 487.5,522.3 492.5,520.4 497.5,518.4 502.5,515.8 507.5,512.5 512.5,508.5 517.5,504.5 522.5,500.3 527.5,495.2 532.5,490.0 537.5,486.0 542.5,482.3 547.5,479.2 552.5,476.8 557.5,475.6 562.5,473.8 567.5,471.2 572.5,467.9 577.5,465.3 582.5,464.2 587.5,464.6 592.5,465.9 597.5,467.6 602.5,470.0 607.5,472.7 612.5,475.5 617.5,478.3 622.5,480.7 627.5,482.9 632.5,484.1 637.5,484.7 642.5,484.6 647.5,485.1 652.5,486.2 657.5,487.9 662.5,489.6 667.5,491.7 672.5,494.0 677.5,496.3 682.5,497.8 687.5,499.6 692.5,501.0 697.5,502.3 702.5,503.1 707.5,503.7 712.5,504.4 717.5,504.7 722.5,504.1 727.5,503.2 732.5,502.1 737.5,501.1 742.5,500.5 747.5,500.5 752.5,500.8 757.5,501.2 762.5,502.0 767.5,501.9 772.5,500.8 777.5,498.1 782.5,494.5 787.5,490.7 792.5,486.8 797.5,482.9 802.5,477.9 807.5,473.4 812.5,470.6 817.5,468.0 822.5,466.5 827.5,466.5 832.5,466.7 837.5,466.7 842.5,467.0 847.5,467.1 852.5,467.5 857.5,468.4 862.5,470.4 867.5,472.9 872.5,475.8 877.5,479.5 882.5,484.0 887.5,488.8 892.5,493.1 897.5,497.3 902.5,500.3 907.5,502.3 912.5,504.7 917.5,507.8 922.5,512.0 927.5,516.8 932.5,521.6 937.5,527.6 942.5,535.6 947.5,541.9 952.5,546.5 957.5,547.6 962.5,545.3 967.5,540.9 972.5,536.2 977.5,532.9 982.5,529.6 987.5,527.6 992.5,528.3 997.5,530.5" fill="none" stroke="#d8d818" stroke-width="1" shape-rendering="crispEdges"/>
<rect x="945.3" y="36" width="89.2" height="225.5" rx="4.5" fill="none" stroke="#f23c1e" stroke-width="2"/>
<g shape-rendering="crispEdges" fill="#ffffff"><rect x="960" y="68" width="7" height="1"/><rect x="962" y="66" width="1" height="5"/></g>
<g shape-rendering="crispEdges" fill="#ffffff"><rect x="920" y="280" width="7" height="1"/><rect x="922" y="278" width="1" height="5"/></g>
<g shape-rendering="crispEdges" fill="#ffffff"><rect x="275" y="406" width="7" height="1"/><rect x="277" y="404" width="1" height="5"/></g>
</svg>
<div id="topbar"><i style="left:65px"></i><i style="left:135px"></i><i style="left:203px"></i><i style="left:270px"></i><i style="left:338px"></i><i style="left:406px"></i><i style="left:474px"></i><i style="left:542px"></i><i style="left:610px"></i><i style="left:678px"></i><i style="left:746px"></i><i style="left:814px"></i><i style="left:882px"></i><i style="left:950px"></i><b style="position:absolute;left:971px;top:0;width:19px;height:1.400px;background:#8a8a90"></b><b style="position:absolute;left:999px;top:0;width:19px;height:1.400px;background:#c4c4c8"></b></div>
<div id="bot"></div>
<div id="side">
<div class="vt" style="top:0;height:51px"><span style="top:6px">分</span><span style="top:20px">时</span><span style="top:34px">图</span></div>
<div class="vt on" style="top:51px;height:46px"><span style="top:4px;font-family:'Liberation Serif',serif;font-size:11px;left:-1.500px">K</span><span style="top:18px">线</span><span style="top:32px">图</span></div>
<div class="vt" style="top:98px;height:51px"><span style="top:6px">闪</span><span style="top:20px">电</span><span style="top:33.500px">图</span></div>
<div class="vt" style="top:150px;height:64px"><span style="top:6px">合</span><span style="top:20px">约</span><span style="top:34px">资</span><span style="top:48px">料</span></div>
</div>

<!-- title -->
<div class="abs" style="left:86px;top:9px;font-size:12px;color:#f4f4f4">现货黄金<span style="color:#ff6a00;letter-spacing:0.4px">【1分】</span></div>
<svg style="left:177px;top:12px" width="11" height="11" viewBox="0 0 11 11"><circle cx="5.5" cy="5.5" r="4" fill="none" stroke="#ff6a00" stroke-width="1"/><path d="M1.5 5.5h8M5.5 1.5v8" stroke="#ff6a00" stroke-width="1" fill="none"/></svg>

<!-- toolbar icons -->
<svg style="left:990px;top:5px" width="68" height="18" viewBox="990 5 68 18">
<g fill="#000" stroke="#b0b0b0" stroke-width="1">
<rect x="992.5" y="7.5" width="13" height="13"/><rect x="1008.5" y="7.5" width="13" height="13"/><rect x="1024.5" y="7.5" width="13" height="13"/><rect x="1040.5" y="7.5" width="13" height="13"/>
</g>
<g fill="#ababab" shape-rendering="crispEdges">
<rect x="998" y="9" width="2" height="3"/><rect x="998" y="16" width="2" height="3"/><rect x="994" y="13" width="3" height="2"/><rect x="1001" y="13" width="3" height="2"/><rect x="998" y="13" width="2" height="2"/>
</g>
<g stroke="#c0c0c0" stroke-width="1" fill="#c0c0c0">
<path d="M1012.5 10v8M1010.5 17.5h9" fill="none"/><path d="M1011 11.5l1.5-2 1.5 2zM1018.5 16l2 1.5-2 1.5z" stroke="none"/><path d="M1015.500 10.500v5" fill="none"/><path d="M1019 10v6l-3-3z" stroke="none"/>
<path d="M1028.500 10v8M1026.500 17.500h9" fill="none"/><path d="M1027 11.500l1.500-2 1.500 2zM1034.500 16l2 1.500-2 1.500z" stroke="none"/><path d="M1030.500 10.500v5.500l4.500-2.700z" stroke="none"/>
<rect x="1042.500" y="10.500" width="2.500" height="8" fill="none"/><path d="M1045 14h5" fill="none" stroke-width="1.400"/><path d="M1048.500 11.500l3 2.500-3 2.500z" stroke="none"/>
</g>
</svg>

<!-- left price labels -->
<div class="pl" style="top:20px">4101.50</div>
<div class="pl" style="top:77px">4093.79</div>
<div class="pl" style="top:135px">4086.08</div>
<div class="pl" style="top:193px">4078.37</div>
<div class="pl" style="top:251px">4070.66</div>
<div class="pl" style="top:309px">4062.95</div>
<div class="pl" style="top:367px">4055.24</div>
<!-- right price labels -->
<div class="pr" style="top:20px">4101.50</div>
<div class="pr" style="top:77px">4093.79</div>
<div class="pr" style="top:135px">4086.08</div>
<div class="pr" style="top:193px">4078.37</div>
<div class="pr" style="top:251px">4070.66</div>
<div class="pr" style="top:309px">4062.95</div>
<div class="pr" style="top:367px">4055.24</div>
<!-- current price boxes -->
<div class="abs" style="left:1055px;top:180px;width:67px;height:16px;border:1px solid #f0962e;background:#000;"></div>
<div class="pr" style="top:182px;color:#f0962e">4081.19</div>
<div class="abs" style="left:1056px;top:267px;width:68px;height:16px;background:#000;"></div>
<div class="pr" style="top:268px;color:#f0962e">4069.65</div>
<svg style="left:1114px;top:170px" width="10" height="11" viewBox="0 0 10 11"><rect x="1" y="2" width="9" height="8" fill="#000"/><path d="M5 2l4 4H1zM5 6.500l4.500 4.500H.5z" fill="#f0962e"/></svg>

<!-- hi/lo labels -->
<div class="abs b" style="left:967px;top:54px;color:#ee4d62;letter-spacing:0.2px">4096.10</div>
<div class="abs b" style="left:927px;top:281px;color:#53bd8a;letter-spacing:0.2px">4067.88</div>
<div class="abs b" style="left:282px;top:406.500px;color:#53bd8a;letter-spacing:0.2px">4051.06</div>

<!-- macd header -->
<svg style="left:14px;top:431px" width="18" height="18" viewBox="14 431 18 18" shape-rendering="crispEdges"><rect x="21" y="436" width="4" height="8" fill="#000"/><rect x="20" y="437" width="6" height="6" fill="#000"/><rect x="19" y="438" width="8" height="4" fill="#000"/><rect x="21" y="437" width="4" height="6" fill="#fff"/><rect x="20" y="438" width="6" height="4" fill="#fff"/><rect x="22" y="438" width="2" height="4" fill="#ff0000"/><rect x="21" y="439" width="4" height="2" fill="#ff0000"/><rect x="22" y="433" width="1" height="2" fill="#ff0000"/><rect x="22" y="445" width="1" height="2" fill="#ff0000"/><rect x="16" y="439" width="2" height="1" fill="#ff0000"/><rect x="28" y="439" width="2" height="1" fill="#ff0000"/><rect x="17" y="434" width="1" height="1" fill="#ff0000"/><rect x="18" y="435" width="1" height="1" fill="#ff0000"/><rect x="28" y="434" width="1" height="1" fill="#ff0000"/><rect x="27" y="435" width="1" height="1" fill="#ff0000"/><rect x="17" y="445" width="1" height="1" fill="#ff0000"/><rect x="18" y="444" width="1" height="1" fill="#ff0000"/><rect x="27" y="444" width="1" height="1" fill="#ff0000"/><rect x="28" y="445" width="1" height="1" fill="#ff0000"/></svg>
<div class="abs" style="left:86.500px;top:435.500px;letter-spacing:0.2px;color:#ececec">MACD(26,12,9)</div>
<div class="abs" style="left:176.500px;top:435.500px;letter-spacing:0.2px;color:#ececec">DIFF:-0.36</div>
<div class="abs" style="left:241.500px;top:435.500px;letter-spacing:0.2px;color:#d8d818">DEA:0.07</div>
<div class="abs" style="left:300px;top:435.500px;letter-spacing:0.2px;color:#d020d0">MACD:-0.88</div>
<!-- macd labels -->
<div class="pl" style="top:447px">3.77</div>
<div class="pl" style="top:470px">2.62</div>
<div class="pl" style="top:494px">1.47</div>
<div class="pl" style="top:518px">0.32</div>
<div class="pl" style="top:541px">-0.83</div>
<div class="pl" style="top:565px">-1.98</div>
<div class="pr" style="top:447px">3.77</div>
<div class="pr" style="top:470px">2.62</div>
<div class="pr" style="top:494px">1.47</div>
<div class="pr" style="top:518px">0.32</div>
<div class="pr" style="top:541px">-0.83</div>
<div class="pr" style="top:565px">-1.98</div>

<!-- time axis -->
<div class="abs b" style="left:32px;top:600px;color:#ff7a14;">1分</div>
<svg style="left:55px;top:603px" width="10" height="9" viewBox="0 0 10 9"><path d="M5 .5l4 7.500H1z" fill="#ff7a14"/></svg>
<div class="abs b" style="left:169.500px;top:597.500px;color:#fff">19:00</div>
<div class="abs b" style="left:469.500px;top:597.500px;color:#fff">20:00</div>
<div class="abs" style="left:782px;top:597.500px;width:30px;height:15px;overflow:hidden"><div class="abs b" style="left:-12.800px;top:0;color:#fff">21:00</div></div>
<div class="abs" style="left:618px;top:597px;width:163px;height:16px;background:#000;"></div>
<div class="abs" style="left:620px;top:598px;color:#f0962e;letter-spacing:0.3px">2025/11/20 20:29 ~ 20:30 四</div>

<!-- watermark -->
<div class="abs" id="wm" style="left:994.500px;top:578.500px;font-size:30.500px;line-height:34px;letter-spacing:2.500px;color:#dde2ee;transform:scaleY(1.06);transform-origin:0 0">FX678</div>

<!-- bottom tabs -->
<div id="tabs">
<div class="cn" style="left:1px;width:39px;background:#ff6a00;color:#fff">指标</div>
<div class="cn" style="left:41px;width:39px;color:#fff">模板</div>
<div style="left:81px;width:57px;color:#ff6a00"><span style="position:relative;top:-1px">VIP</span><span style="font-family:'Noto Sans CJK SC',sans-serif;letter-spacing:0">指标</span></div>
<div class="la" style="left:139px;width:27px">MA</div>
<div class="la" style="left:167px;width:39px">MACD</div>
<div class="la" style="left:207px;width:39px">BIAS</div>
<div class="la" style="left:247px;width:33px">CCI</div>
<div class="la" style="left:281px;width:33px">KDJ</div>
<div class="la" style="left:315px;width:39px">LW&amp;&nbsp;</div>
<div class="la" style="left:355px;width:33px">RSI</div>
<div class="la" style="left:389px;width:27px">CR</div>
<div class="la" style="left:417px;width:33px">PSY</div>
<div class="la" style="left:451px;width:39px">BOLL</div>
<div class="la" style="left:491px;width:33px">VOL</div>
<div class="la" style="left:525px;width:33px">OBV</div>
<div class="cn" style="left:559px;width:39px">设置</div>
</div>
</div>
</body>
</html>
